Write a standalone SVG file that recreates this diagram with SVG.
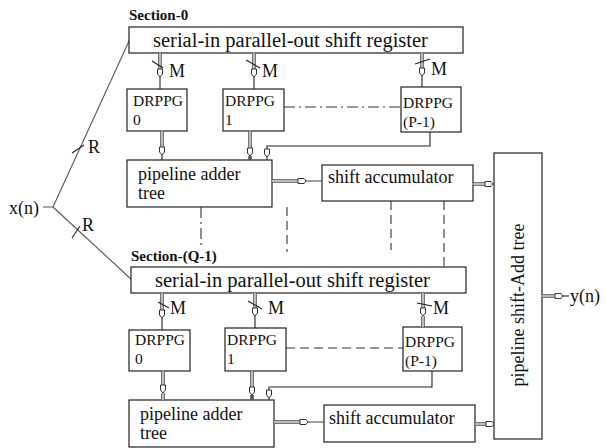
<svg xmlns="http://www.w3.org/2000/svg" xmlns:xlink="http://www.w3.org/1999/xlink" width="606" height="448" viewBox="0 0 606 448">
<style>
.bx{fill:#fff;stroke:#222;stroke-width:1.2}
.t{font-family:"Liberation Serif",serif;fill:#111}
.reg{font-size:20.5px}
.dr{font-size:15.5px}
.pa{font-size:18px}
.sec{font-size:15px;font-weight:bold}
.lbl{font-size:18px}
.sh{fill:none;stroke:#555;stroke-width:3.6}
.shi{fill:none;stroke:#fff;stroke-width:1.2}
.ln{fill:none;stroke:#222;stroke-width:1.1}
.gl{fill:none;stroke:#555;stroke-width:1.1}
.dsh{fill:none;stroke:#333;stroke-width:1.1;stroke-dasharray:9 5}
.dd{fill:none;stroke:#333;stroke-width:1.1;stroke-dasharray:11 4 2 4}
.hd{fill:#fff;stroke:#333;stroke-width:1}
</style>
<defs>
<polygon id="hv" class="hd" points="-2.5,0 2.5,0 2.5,5 0,8 -2.5,5"/>
<polygon id="hh" class="hd" points="0,-2.5 6,-2.5 8,0 6,2.5 0,2.5"/>
</defs>

<g id="inputs">
<text class="t lbl" x="9" y="214">x(n)</text>
<path class="gl" d="M43 207H53L130 39"/>
<path class="gl" d="M53 207L132 280"/>
<path class="ln" d="M72 153L84 145"/>
<text class="t lbl" x="88" y="153">R</text>
<path class="ln" d="M72 238L80 226"/>
<text class="t lbl" x="82" y="231">R</text>
</g>

<g id="section0-label"><text class="t sec" x="129" y="20">Section-0</text></g>
<g id="sipo0"><rect class="bx" x="129" y="27" width="334" height="26"/><text class="t reg" x="153" y="47">serial-in parallel-out shift register</text></g>
<g id="drppg0-0"><rect class="bx" x="127" y="89" width="60" height="42"/><text class="t dr" x="133" y="106">DRPPG</text><text class="t dr" x="133" y="125">0</text></g>
<g id="drppg0-1"><rect class="bx" x="223" y="89" width="61" height="42"/><text class="t dr" x="225" y="106">DRPPG</text><text class="t dr" x="225" y="125">1</text></g>
<g id="drppg0-p"><rect class="bx" x="401" y="87" width="60" height="45"/><text class="t dr" x="403" y="108">DRPPG</text><text class="t dr" x="403" y="127">(P-1)</text></g>
<g id="adder0"><rect class="bx" x="127" y="160" width="145" height="47"/><text class="t pa" x="138" y="180">pipeline adder</text><text class="t pa" x="138" y="199">tree</text></g>
<g id="acc0"><rect class="bx" x="322" y="165" width="151" height="36"/><text class="t pa" x="328" y="183">shift accumulator</text></g>

<g id="sectionQ-label"><text class="t sec" x="131" y="261">Section-(Q-1)</text></g>
<g id="sipoQ"><rect class="bx" x="131" y="267" width="335" height="26"/><text class="t reg" x="155" y="287">serial-in parallel-out shift register</text></g>
<g id="drppgQ-0"><rect class="bx" x="129" y="330" width="61" height="41"/><text class="t dr" x="135" y="345">DRPPG</text><text class="t dr" x="135" y="364">0</text></g>
<g id="drppgQ-1"><rect class="bx" x="225" y="328" width="61" height="43"/><text class="t dr" x="227" y="345">DRPPG</text><text class="t dr" x="227" y="364">1</text></g>
<g id="drppgQ-p"><rect class="bx" x="403" y="327" width="59" height="44"/><text class="t dr" x="405" y="347">DRPPG</text><text class="t dr" x="405" y="366">(P-1)</text></g>
<g id="adderQ"><rect class="bx" x="129" y="400" width="145" height="47"/><text class="t pa" x="140" y="420">pipeline adder</text><text class="t pa" x="140" y="439">tree</text></g>
<g id="accQ"><rect class="bx" x="324" y="405" width="151" height="37"/><text class="t pa" x="329" y="424">shift accumulator</text></g>

<g id="shiftadd"><rect class="bx" x="494" y="153" width="48" height="286"/><text class="t pa" transform="translate(524 305) rotate(-90)" text-anchor="middle" font-size="17.5">pipeline shift-Add tree</text></g>
<g id="output"><text class="t lbl" x="570" y="302" font-size="20">y(n)</text></g>

<g id="connectors">
<path class="sh" d="M160 53V70"/><path class="shi" d="M160 53V70"/><use xlink:href="#hv" x="160" y="69"/><path class="ln" d="M160 77V89"/>
<path class="sh" d="M254 53V70"/><path class="shi" d="M254 53V70"/><use xlink:href="#hv" x="254" y="69"/><path class="ln" d="M254 77V89"/>
<path class="sh" d="M422 53V69"/><path class="shi" d="M422 53V69"/><use xlink:href="#hv" x="422" y="68"/><path class="ln" d="M422 76V87"/>
<path class="ln" d="M152 61L163 68"/><text class="t lbl" x="169" y="77">M</text>
<path class="ln" d="M246 60L260 68"/><text class="t lbl" x="262" y="77">M</text>
<path class="ln" d="M415 64L430 59"/><text class="t lbl" x="431" y="75">M</text>
<path class="dd" d="M284 107H401"/>
<path class="sh" d="M162 131V148"/><path class="shi" d="M162 131V148"/><use xlink:href="#hv" x="162" y="147"/><path class="ln" d="M162 155V160"/>
<path class="sh" d="M250 131V148"/><path class="shi" d="M250 131V148"/><use xlink:href="#hv" x="250" y="148"/><path class="sh" d="M250 156V160"/>
<path class="ln" d="M430 132V146H267V150"/><use xlink:href="#hv" x="267" y="149"/><path class="ln" d="M267 157V160"/>
<path class="sh" d="M272 181H299"/><path class="shi" d="M272 181H299"/><use xlink:href="#hh" x="298" y="181"/><path class="gl" d="M306 181H322"/>
<path class="sh" d="M473 184H485"/><path class="shi" d="M473 184H485"/><use xlink:href="#hh" x="485" y="184"/>
<path class="dd" d="M201 207V246"/>
<path class="dsh" d="M287 207V252"/>
<path class="dsh" d="M391 201V250"/>
<path class="dsh" d="M444 201V266"/>
<path class="sh" d="M162 293V311"/><path class="shi" d="M162 293V311"/><use xlink:href="#hv" x="162" y="310"/><path class="ln" d="M162 318V330"/>
<path class="sh" d="M255 293V309"/><path class="shi" d="M255 293V309"/><use xlink:href="#hv" x="255" y="308"/><path class="ln" d="M255 316V328"/>
<path class="sh" d="M423 293V309"/><path class="shi" d="M423 293V309"/><use xlink:href="#hv" x="423" y="308"/><path class="sh" d="M423 316V327"/><path class="shi" d="M423 316V327"/>
<path class="ln" d="M158 302L169 308"/><text class="t lbl" x="170" y="314">M</text>
<path class="ln" d="M248 301L262 309"/><text class="t lbl" x="268" y="314">M</text>
<path class="ln" d="M417 303L432 306"/><text class="t lbl" x="433" y="314">M</text>
<path class="dsh" d="M286 348H403"/>
<path class="sh" d="M163 371V386"/><path class="shi" d="M163 371V386"/><use xlink:href="#hv" x="163" y="385"/><path class="sh" d="M163 393V400"/><path class="shi" d="M163 393V400"/>
<path class="sh" d="M252 371V388"/><path class="shi" d="M252 371V388"/><use xlink:href="#hv" x="252" y="387"/><path class="sh" d="M252 395V400"/>
<path class="ln" d="M432 371V387H269V391"/><use xlink:href="#hv" x="269" y="390"/><path class="ln" d="M269 398V400"/>
<path class="sh" d="M274 422H301"/><path class="shi" d="M274 422H301"/><use xlink:href="#hh" x="300" y="422"/><path class="gl" d="M308 422H324"/>
<path class="sh" d="M475 424H487"/><path class="shi" d="M475 424H487"/><use xlink:href="#hh" x="486" y="424"/>
<path class="sh" d="M542 296H555"/><path class="shi" d="M542 296H555"/><use xlink:href="#hh" x="555" y="296"/><path class="ln" d="M563 296H569"/>
</g>
</svg>
